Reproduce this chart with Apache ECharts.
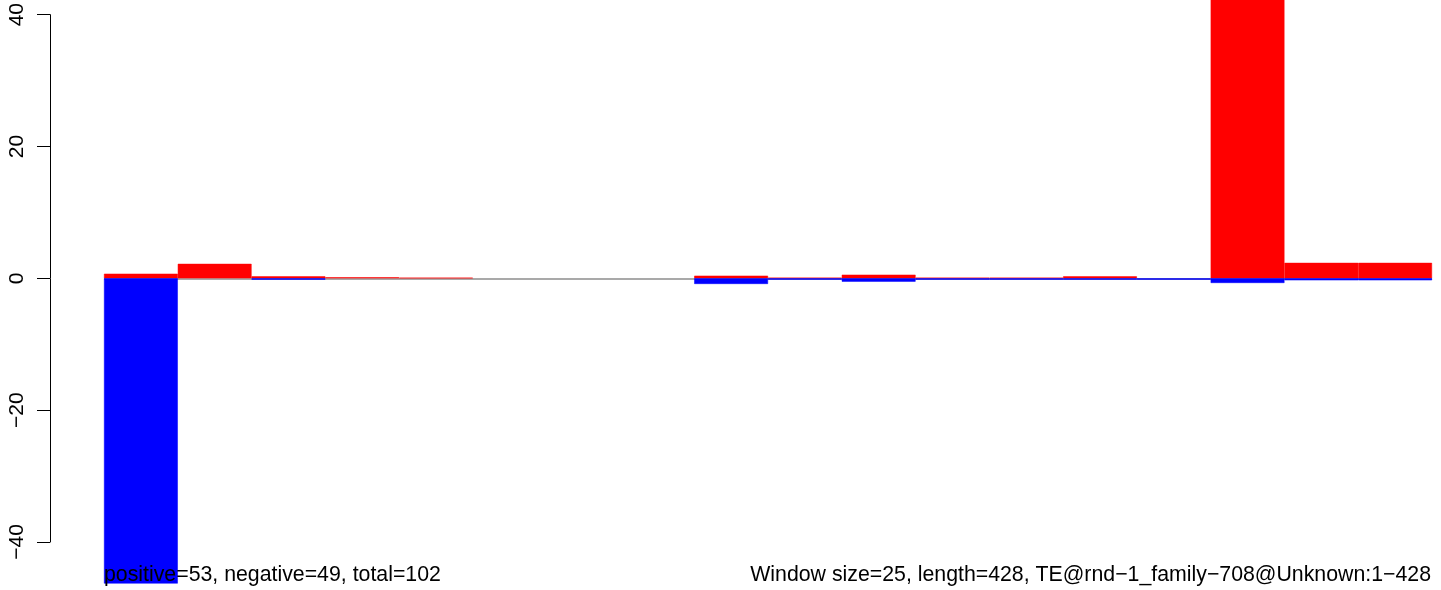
<!DOCTYPE html>
<html>
<head>
<meta charset="utf-8">
<script src="https://cdn.jsdelivr.net/npm/echarts@6/dist/echarts.min.js"></script>
<style>
html,body{margin:0;padding:0;background:#fff;}
#c{width:1441px;height:590px;}
</style>
</head>
<body>
<div id="c"></div>
<script>
// Window bins (25 bp each, length 428)
const categories = ['1','26','51','76','101','126','151','176','201','226','251','276','301','326','351','376','401','426'];
const positiveValues = [0.7, 2.2, 0.3, 0.15, 0.1, 0, 0, 0, 0.4, 0.1, 0.55, 0.1, 0.1, 0.3, 0, 44, 2.35, 2.35];
const negativeValues = [-46.3, 0, -0.2, 0, 0, 0, 0, 0, -0.85, -0.2, -0.5, -0.2, -0.2, -0.2, -0.2, -0.7, -0.3, -0.3];
const yTicks = [-40, -20, 0, 20, 40];
const leftNote = 'positive=53, negative=49, total=102';
const rightNote = 'Window size=25, length=428, TE@rnd\u22121_family\u2212708@Unknown:1\u2212428';

// zero-height bins draw nothing
const toBars = arr => arr.map(v => (v === 0 ? '-' : v));

const FONT = '"Liberation Sans", Arial, Helvetica, sans-serif';
const chart = echarts.init(document.getElementById('c'), null, {renderer: 'canvas'});
chart.setOption({
  animation: false,
  backgroundColor: '#ffffff',
  grid: {left: 104, right: 9, top: 14, bottom: 48, containLabel: false},
  xAxis: {
    type: 'category',
    data: categories,
    show: false,
    boundaryGap: true
  },
  yAxis: {
    type: 'value',
    min: yTicks[0],
    max: yTicks[yTicks.length - 1],
    interval: 20,
    offset: 54,
    axisLine: {show: true, lineStyle: {color: '#000', width: 1}},
    axisTick: {show: true, length: 13, lineStyle: {color: '#000', width: 1}},
    splitLine: {show: false},
    axisLabel: {
      rotate: 90,
      margin: 22,
      color: '#000',
      fontSize: 21,
      fontFamily: FONT,
      formatter: v => String(v).replace('-', '\u2212')
    }
  },
  series: [
    {
      type: 'line',
      data: [],
      z: 1,
      markLine: {
        silent: true,
        z: 1,
        symbol: ['none', 'none'],
        label: {show: false},
        lineStyle: {color: '#a9a9a9', width: 2, type: 'solid'},
        data: [{yAxis: 0}]
      }
    },
    {
      name: 'positive',
      type: 'bar',
      data: toBars(positiveValues),
      clip: false,
      z: 3,
      barCategoryGap: 0,
      barGap: '-100%',
      itemStyle: {color: '#ff0000', borderColor: '#ff0000', borderWidth: 0.5}
    },
    {
      name: 'negative',
      type: 'bar',
      data: toBars(negativeValues),
      clip: false,
      z: 3,
      barCategoryGap: 0,
      barGap: '-100%',
      itemStyle: {color: '#0000ff', borderColor: '#0000ff', borderWidth: 0.5}
    }
  ],
  graphic: [
    {
      type: 'text', x: 104, y: 575, z: 100,
      style: {text: leftNote, fill: '#000', font: '21.3px ' + FONT, align: 'left', verticalAlign: 'middle'}
    },
    {
      type: 'text', x: 1431, y: 575, z: 100,
      style: {text: rightNote, fill: '#000', font: '21.3px ' + FONT, align: 'right', verticalAlign: 'middle'}
    }
  ]
});
</script>
</body>
</html>
